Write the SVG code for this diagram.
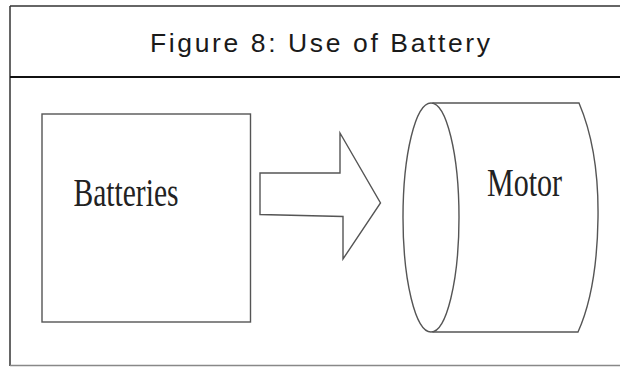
<svg xmlns="http://www.w3.org/2000/svg" width="620" height="367" viewBox="0 0 620 367">
<style>
.frame{fill:none;stroke:#333;stroke-width:1.5}
.shape{fill:#fff;stroke:#555;stroke-width:1.4}
.title{font-family:"Liberation Sans",Arial,sans-serif;font-size:26.5px;fill:#1a1a1a}
.lbl{font-family:"Liberation Serif","Times New Roman",serif;font-size:40px;fill:#222}
</style>
<rect width="620" height="367" fill="#fff"/>
<g id="frame">
<line class="frame" x1="10" y1="6" x2="620" y2="6"/>
<line class="frame" x1="10" y1="6" x2="10" y2="366"/>
<line x1="10" y1="77" x2="620" y2="77" stroke="#111" stroke-width="2.2"/>
<line x1="10" y1="365.5" x2="620" y2="365.5" stroke="#888" stroke-width="1.5"/>
<text class="title" x="150" y="51.5" textLength="340" lengthAdjust="spacing">Figure 8: Use of Battery</text>
</g>
<g id="batteries">
<rect class="shape" x="42" y="114" width="208.5" height="208"/>
<text class="lbl" x="73.5" y="206" textLength="105" lengthAdjust="spacingAndGlyphs">Batteries</text>
</g>
<g id="connectors">
<path class="shape" d="M260,173 L340,173 L340,133 L380.5,203 L343,259 L343,216.5 L260,214.5 Z" stroke-linejoin="miter"/>
</g>
<g id="motor">
<path class="shape" d="M433,103 L579,103 Q599,150 598,218 Q597,290 578,332 L433,332 Z"/>
<ellipse class="shape" cx="431" cy="217.5" rx="28" ry="114.5"/>
<text class="lbl" x="487" y="196" textLength="75" lengthAdjust="spacingAndGlyphs">Motor</text>
</g>
</svg>
